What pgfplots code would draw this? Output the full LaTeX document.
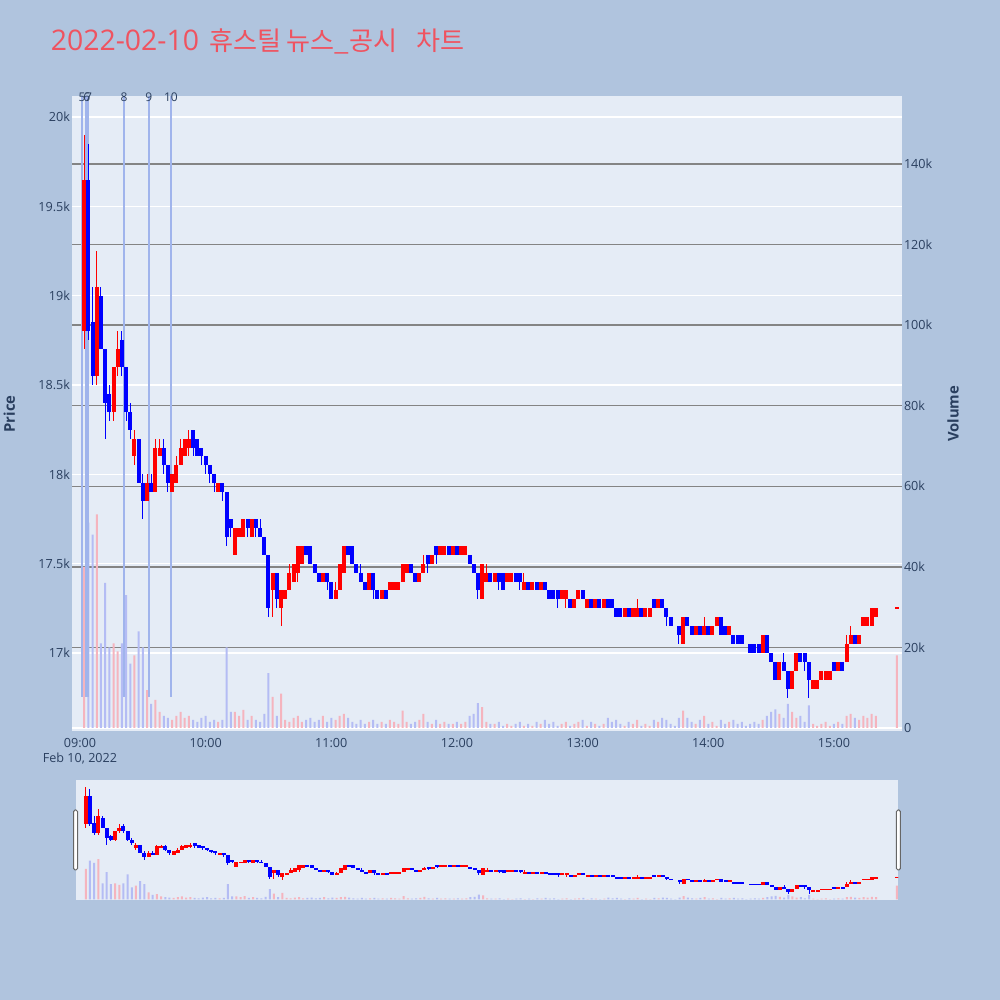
\documentclass[border=0pt]{standalone}
\usepackage{pgfplots}
\pgfplotsset{compat=1.18}
\usepackage{pgfplotstable}
\usepackage{fontspec}
\setmainfont{Open Sans}
\newfontfamily\kr{Noto Sans CJK KR}[Scale=0.92]

\definecolor{bgc}{HTML}{B0C4DE}
\definecolor{plotbg}{HTML}{E5ECF6}
\definecolor{fontc}{HTML}{2A3F5F}
\definecolor{titlec}{RGB}{239,83,96}
\definecolor{gridgray}{RGB}{132,132,132}
\definecolor{cred}{RGB}{255,0,0}
\definecolor{cblue}{RGB}{0,0,255}
\definecolor{vred}{RGB}{245,180,190}
\definecolor{vblue}{RGB}{180,188,244}
\definecolor{newsc}{RGB}{160,180,236}

\pgfplotstableread{
m o h l c v
2 18800 19900 18700 19650 40000
4 19650 19850 18750 18800 51000
6 18850 19050 18500 18550 48000
8 18550 19250 18500 19050 53000
10 19000 19050 18700 18700 21000
12 18700 18700 18200 18400 36000
14 18450 18500 18300 18350 20000
16 18350 18600 18300 18600 21000
18 18600 18800 18550 18700 19000
20 18750 18800 18550 18600 21000
22 18600 18600 18300 18350 33000
24 18350 18400 18200 18250 16000
26 18100 18250 18050 18200 18000
28 18200 18200 17950 17950 24000
30 17950 18000 17750 17850 20000
32 17850 18000 17850 17950 9400
34 17950 18000 17900 17900 6000
36 17900 18200 17900 18150 7000
38 18100 18200 18100 18150 4000
40 18150 18200 18000 18050 3000
42 18050 18050 17900 17950 2500
44 17900 18000 17900 18000 2000
46 17950 18100 17950 18050 3000
48 18050 18200 18050 18150 4000
50 18100 18200 18100 18200 2500
52 18150 18250 18100 18200 3000
54 18250 18250 18100 18150 2000
56 18200 18200 18100 18100 1500
58 18150 18150 18050 18100 2500
60 18100 18100 18000 18050 3000
62 18050 18050 17950 18000 1500
64 18000 18000 17900 17950 2000
66 17900 17950 17900 17950 1500
68 17950 17950 17850 17900 2000
70 17900 17900 17600 17650 20000
72 17750 17750 17650 17700 4000
74 17550 17700 17550 17700 4000
76 17650 17700 17650 17700 3000
78 17650 17750 17650 17750 4500
80 17750 17750 17650 17700 2000
82 17650 17750 17650 17750 3000
84 17750 17750 17650 17700 2000
86 17700 17750 17650 17650 1500
88 17650 17650 17550 17550 3500
90 17550 17550 17200 17250 13600
92 17350 17450 17200 17450 7700
94 17450 17450 17250 17300 3000
96 17250 17350 17150 17350 8500
98 17300 17350 17300 17350 2000
100 17350 17500 17350 17450 1500
102 17400 17500 17400 17500 2500
104 17450 17600 17400 17600 3000
106 17500 17600 17500 17600 1500
108 17600 17600 17550 17550 2000
110 17600 17600 17500 17500 2500
112 17500 17500 17450 17450 1500
114 17450 17450 17400 17400 2000
116 17400 17450 17400 17450 3000
118 17450 17450 17350 17400 1500
120 17400 17400 17300 17300 2500
122 17300 17400 17300 17350 2000
124 17350 17500 17350 17500 3000
126 17450 17600 17450 17600 3500
128 17600 17600 17550 17550 2500
130 17600 17600 17500 17500 1500
132 17500 17500 17450 17450 1000
134 17450 17500 17400 17400 2000
136 17400 17400 17350 17350 1000
138 17350 17450 17350 17450 1500
140 17450 17450 17300 17350 2000
142 17350 17350 17300 17300 1000
144 17300 17350 17300 17350 1500
146 17350 17350 17300 17300 1000
148 17350 17400 17350 17400 2000
150 17350 17400 17350 17400 1500
152 17350 17400 17350 17400 1000
154 17400 17500 17400 17500 4300
156 17450 17500 17450 17500 1500
158 17500 17500 17450 17450 1000
160 17450 17450 17400 17400 1500
162 17400 17450 17400 17450 2000
164 17450 17550 17450 17500 3500
166 17550 17550 17450 17500 1500
168 17500 17550 17500 17550 1000
170 17600 17600 17500 17550 2000
172 17550 17600 17550 17600 1000
174 17550 17600 17550 17600 1500
176 17600 17600 17550 17550 1000
178 17550 17600 17550 17600 1000
180 17600 17600 17550 17550 1500
182 17550 17600 17550 17600 1000
184 17550 17600 17550 17600 1500
186 17550 17550 17500 17500 3000
188 17500 17500 17450 17450 3500
190 17450 17450 17300 17350 6200
192 17300 17500 17300 17500 5200
194 17400 17500 17400 17450 1500
196 17450 17450 17400 17400 1000
198 17400 17450 17400 17450 1000
200 17450 17450 17350 17400 1500
202 17450 17450 17350 17350 500
204 17400 17450 17400 17450 1000
206 17400 17450 17400 17450 500
208 17450 17450 17400 17400 1000
210 17450 17450 17350 17400 1500
212 17350 17450 17350 17400 500
214 17400 17400 17350 17350 1000
216 17350 17400 17350 17400 500
218 17400 17400 17350 17350 1500
220 17350 17400 17350 17400 1000
222 17400 17400 17350 17350 2000
224 17350 17350 17300 17300 1000
226 17350 17350 17300 17300 1500
228 17350 17350 17250 17300 500
230 17300 17350 17300 17350 1000
232 17300 17350 17250 17350 1500
234 17300 17300 17250 17250 500
236 17250 17300 17250 17300 1000
238 17300 17350 17300 17350 1500
240 17350 17350 17300 17300 2000
242 17250 17300 17250 17300 500
244 17300 17300 17250 17250 1500
246 17250 17300 17250 17300 1000
248 17300 17300 17250 17250 500
250 17250 17300 17250 17300 1000
252 17300 17300 17250 17250 2500
254 17300 17300 17250 17250 1500
256 17250 17250 17200 17200 2000
258 17250 17250 17200 17200 1000
260 17200 17250 17200 17250 500
262 17250 17250 17200 17200 1500
264 17200 17250 17200 17250 1000
266 17200 17300 17200 17250 2000
268 17250 17250 17200 17200 500
270 17200 17250 17200 17250 1000
272 17200 17250 17200 17250 500
274 17300 17300 17250 17250 2000
276 17250 17300 17250 17300 1500
278 17300 17300 17250 17250 2500
280 17250 17250 17150 17200 2000
282 17200 17200 17150 17150 1000
284 17150 17150 17150 17150 500
286 17150 17150 17050 17100 2500
288 17050 17200 17050 17200 4300
290 17200 17200 17150 17150 2500
292 17150 17150 17100 17100 1500
294 17100 17150 17100 17150 1000
296 17150 17150 17100 17100 2000
298 17100 17200 17100 17150 3000
300 17150 17150 17100 17100 1000
302 17100 17150 17100 17150 1500
304 17150 17200 17150 17200 500
306 17200 17200 17100 17100 2000
308 17150 17150 17100 17100 1000
310 17100 17150 17100 17150 1500
312 17100 17100 17050 17050 2000
314 17100 17100 17050 17050 1000
316 17100 17100 17050 17050 1500
318 17050 17050 17050 17050 500
320 17050 17050 17000 17000 1000
322 17050 17050 17000 17000 1500
324 17050 17050 17000 17000 1000
326 17000 17100 17000 17100 2000
328 17100 17100 17000 17000 3000
330 17000 17000 16950 16950 4000
332 16950 16950 16850 16850 4600
334 16850 16950 16850 16950 3500
336 16950 17000 16900 16900 2500
338 16900 16900 16750 16800 6000
340 16800 16900 16800 16900 4000
342 16900 17000 16900 17000 2500
344 17000 17000 16950 16950 3000
346 17000 17000 16900 16950 1500
348 16950 16950 16750 16850 5600
350 16800 16850 16800 16850 1000
352 16800 16850 16800 16850 500
354 16850 16900 16850 16900 1000
356 16850 16900 16850 16900 1500
358 16850 16900 16850 16900 500
360 16950 16950 16900 16900 1000
362 16900 16950 16900 16950 1500
364 16950 16950 16900 16900 1000
366 16950 17100 16950 17050 3000
368 17050 17150 17050 17100 3500
370 17100 17100 17050 17050 2500
372 17050 17100 17050 17100 2000
374 17150 17200 17150 17200 3000
376 17150 17200 17150 17200 2500
378 17150 17250 17150 17250 3500
380 17200 17250 17200 17250 3000
390 17245 17255 17245 17255 18000
}\candles

\pgfplotsset{
  candle/.style n args={3}{draw=none, mark=none, unbounded coords=discard,
    restrict expr to domain={\thisrow{c}-\thisrow{o}}{#1},
    error bars/.cd, y dir=both, y explicit, error mark=none,
    error bar style={solid, draw=#2, line width=#3}},
}
\newcommand{\candleplots}{%
\addplot[candle={0.5:100000}{cred}{0.5pt}]
  table[x=m, y expr={(\thisrow{h}+\thisrow{l})/2}, y error expr={(\thisrow{h}-\thisrow{l})/2}] {\candles};
\addplot[candle={0.5:100000}{cred}{2pt}]
  table[x=m, y expr={(\thisrow{o}+\thisrow{c})/2}, y error expr={(\thisrow{c}-\thisrow{o})/2}] {\candles};
\addplot[candle={-100000:0.5}{cblue}{0.5pt}]
  table[x=m, y expr={(\thisrow{h}+\thisrow{l})/2}, y error expr={(\thisrow{h}-\thisrow{l})/2}] {\candles};
\addplot[candle={-100000:0.5}{cblue}{2pt}]
  table[x=m, y expr={(\thisrow{o}+\thisrow{c})/2}, y error expr={(\thisrow{o}-\thisrow{c})/2}] {\candles};
}
\newcommand{\volplots}{%
\addplot[ybar, bar shift=0pt, bar width=1pt, fill=vred, draw=none, unbounded coords=discard,
  restrict expr to domain={\thisrow{c}-\thisrow{o}}{0.5:100000}]
  table[x=m, y=v] {\candles};
\addplot[ybar, bar shift=0pt, bar width=1pt, fill=vblue, draw=none, unbounded coords=discard,
  restrict expr to domain={\thisrow{c}-\thisrow{o}}{-100000:0.5}]
  table[x=m, y=v] {\candles};
}

\pgfplotsset{
  mainbox/.style={scale only axis, width=415pt, height=317.5pt,
    at={(36pt,134.5pt)}, anchor=south west, xmin=-3.82, xmax=392.5},
  slidebox/.style={scale only axis, width=411pt, height=60pt,
    at={(38pt,50pt)}, anchor=south west, xmin=-2.69, xmax=390.5, hide axis},
  pricerange/.style={ymin=16563.5, ymax=20117.5},
  volrange/.style={ymin=-745, ymax=156860},
}

\begin{document}
\begin{tikzpicture}
\fill[bgc] (0,0) rectangle (500pt,500pt);

% title
\begin{scope}[every node/.style={anchor=base west, text=titlec, font=\fontsize{14.2}{16}\selectfont, inner sep=0pt}]
\node at (25.2pt,474.5pt) {2022-02-10};
\node at (104.5pt,474.5pt) {\kr 휴스틸};
\node at (143pt,474.5pt) {\kr 뉴스\_공시};
\node at (208pt,474.5pt) {\kr 차트};
\end{scope}

% axis titles
\node[rotate=90, font=\bfseries\fontsize{7.4}{9}\selectfont, text=fontc] at (4.6pt,293pt) {Price};
\node[rotate=90, font=\bfseries\fontsize{7.4}{9}\selectfont, text=fontc] at (476.5pt,293pt) {Volume};

% price axis: background, white grid, left ticks, x ticks
\begin{axis}[mainbox, pricerange, clip=false,
  axis background/.style={fill=plotbg},
  axis line style={draw=none}, tick style={draw=none},
  ytick={17000,17500,18000,18500,19000,19500,20000},
  yticklabels={17k,17.5k,18k,18.5k,19k,19.5k,20k},
  xtick={0,60,120,180,240,300,360},
  xticklabels={09:00,10:00,11:00,12:00,13:00,14:00,15:00},
  ymajorgrids, major grid style={white, line width=0.6pt},
  tick label style={font=\fontsize{6.3}{7.5}\selectfont, text=fontc},
  yticklabel style={anchor=east, inner sep=0pt, xshift=-0.8pt},
  xticklabel style={anchor=north, inner sep=0pt, yshift=-3.3pt},
  scaled y ticks=false]
\node[anchor=base, inner sep=0pt, font=\fontsize{6.3}{7.5}\selectfont, text=fontc]
  at (axis cs:0,16563.5) [yshift=-15.6pt] {Feb 10, 2022};
\end{axis}

% volume axis: gray grid, right ticks, bars
\begin{axis}[mainbox, volrange,
  axis y line*=right, axis x line=none,
  axis line style={draw=none}, tick style={draw=none},
  xtick=\empty,
  ytick={0,20000,40000,60000,80000,100000,120000,140000},
  yticklabels={0,20k,40k,60k,80k,100k,120k,140k},
  ymajorgrids, major grid style={gridgray, line width=0.7pt},
  tick label style={font=\fontsize{6.3}{7.5}\selectfont, text=fontc},
  yticklabel style={anchor=west, inner sep=0pt, xshift=0.8pt},
  scaled y ticks=false]
\draw[white, line width=1pt] (axis cs:-3.82,0) -- (axis cs:392.5,0);
\volplots
\end{axis}

% candles and news lines
\begin{axis}[mainbox, pricerange, hide axis, clip=false]
\foreach \t in {1,2.9,3.9,21,32.9,43.4}{
  \edef\tmp{\noexpand\draw[newsc, line width=0.7pt] (axis cs:\t,16754) -- (axis cs:\t,20117.5);}\tmp
}
\candleplots
\foreach \t/\lab in {1/5,3.2/6,4.1/7,21/8,32.9/9,43.4/10}{
  \edef\tmp{\noexpand\node[font=\noexpand\fontsize{6}{7}\noexpand\selectfont, text=fontc, inner sep=0pt] at (axis cs:\t,20117.5) [yshift=-0.4pt] {\lab};}\tmp
}
\end{axis}

% range slider
\fill[plotbg] (38pt,50pt) rectangle (449pt,110pt);
\begin{axis}[slidebox, volrange]
\volplots
\end{axis}
\begin{axis}[slidebox, pricerange]
\candleplots
\end{axis}
\draw[fill=white, draw=black!60, line width=0.5pt, rounded corners=0.8pt] (36.8pt,65pt) rectangle (38.8pt,95pt);
\draw[fill=white, draw=black!60, line width=0.5pt, rounded corners=0.8pt] (448.2pt,65pt) rectangle (450.2pt,95pt);

\pgfresetboundingbox
\useasboundingbox (0,0) rectangle (500pt,500pt);
\end{tikzpicture}
\end{document}
